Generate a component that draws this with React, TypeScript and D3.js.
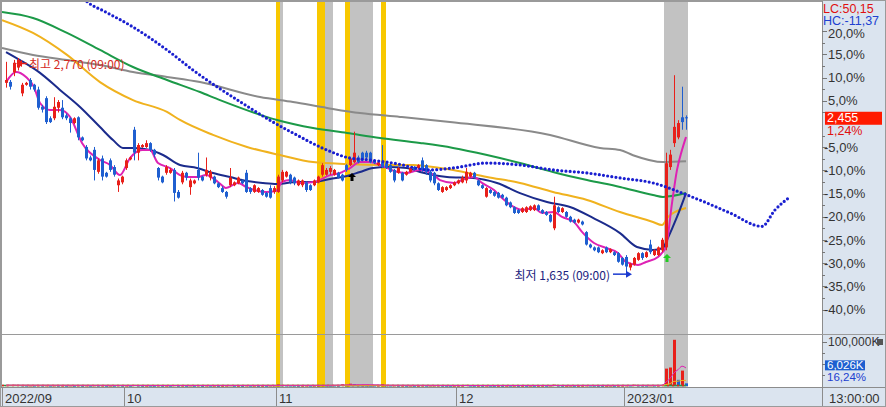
import React from 'react';
import * as d3 from 'd3';

// reference price for the % axis (last close 2,455 = +1.24%)
const basePrice = 2425;

const opens = [
  2640, 2645, 2695, 2720, 2585, 2630, 2655, 2630, 2605, 2515,
  2560, 2455, 2455, 2510, 2510, 2470, 2455, 2430, 2460, 2355,
  2305, 2250, 2290, 2175, 2245, 2170, 2235, 2200, 2105, 2120,
  2195, 2240, 2395, 2275, 2305, 2305, 2325, 2290, 2195, 2150,
  2170, 2170, 2185, 2070, 2120, 2170, 2095, 2115, 2185, 2150,
  2160, 2145, 2150, 2115, 2090, 2070, 2105, 2105, 2115, 2130,
  2170, 2090, 2070, 2070, 2080, 2065, 2090, 2070, 2070, 2130,
  2150, 2160, 2145, 2105, 2105, 2120, 2105, 2105, 2120, 2160,
  2160, 2175, 2160, 2170, 2160, 2210, 2210, 2225, 2250, 2275,
  2275, 2275, 2235, 2210, 2225, 2220, 2210, 2185, 2170, 2170,
  2160, 2175, 2200, 2195, 2235, 2210, 2175, 2170, 2115, 2070,
  2080, 2090, 2105, 2115, 2120, 2130, 2150, 2170, 2130, 2105,
  2045, 2080, 2070, 2065, 2055, 2040, 2015, 1990, 1975, 1965,
  1965, 1975, 1975, 2000, 1975, 1965, 1950, 1880, 1990, 1965,
  1965, 1940, 1925, 1910, 1915, 1860, 1795, 1780, 1780, 1750,
  1780, 1755, 1755, 1750, 1725, 1730, 1675, 1690, 1715, 1750,
  1730, 1795, 1740, 1740, 1765, 1780, 2200, 2325, 2355, 2460,
  2460,
];
const highs = [
  2750, 2655, 2760, 2770, 2640, 2645, 2665, 2635, 2620, 2525,
  2570, 2465, 2565, 2550, 2550, 2480, 2460, 2460, 2465, 2360,
  2315, 2260, 2305, 2245, 2260, 2175, 2245, 2210, 2140, 2155,
  2245, 2255, 2410, 2325, 2320, 2340, 2330, 2295, 2200, 2155,
  2210, 2195, 2195, 2080, 2180, 2175, 2140, 2135, 2275, 2155,
  2250, 2185, 2155, 2120, 2100, 2075, 2195, 2125, 2150, 2135,
  2185, 2095, 2110, 2095, 2085, 2070, 2105, 2100, 2160, 2185,
  2180, 2165, 2150, 2135, 2135, 2125, 2110, 2135, 2155, 2220,
  2195, 2205, 2190, 2175, 2165, 2215, 2250, 2385, 2260, 2280,
  2285, 2280, 2240, 2230, 2315, 2225, 2215, 2190, 2200, 2175,
  2180, 2200, 2205, 2215, 2250, 2215, 2185, 2175, 2120, 2100,
  2100, 2110, 2125, 2135, 2155, 2195, 2175, 2175, 2135, 2110,
  2095, 2085, 2075, 2070, 2060, 2045, 2020, 1995, 1980, 1990,
  1995, 2000, 2005, 2005, 1980, 1970, 1955, 2045, 1995, 1990,
  1970, 1945, 1930, 1930, 1920, 1865, 1800, 1785, 1785, 1770,
  1785, 1775, 1760, 1755, 1730, 1740, 1700, 1730, 1755, 1755,
  1760, 1820, 1770, 1785, 1830, 2275, 2290, 2680, 2445, 2620,
  2470,
];
const lows = [
  2615, 2605, 2675, 2705, 2570, 2625, 2605, 2595, 2500, 2485,
  2425, 2430, 2445, 2485, 2450, 2445, 2380, 2425, 2340, 2335,
  2235, 2230, 2130, 2165, 2130, 2145, 2175, 2150, 2070, 2110,
  2185, 2235, 2235, 2235, 2300, 2300, 2280, 2250, 2130, 2115,
  2160, 2165, 2020, 2035, 2110, 2130, 2055, 2110, 2130, 2125,
  2150, 2130, 2110, 2090, 2065, 2035, 2095, 2100, 2110, 2110,
  2065, 2060, 2065, 2065, 2050, 2040, 2035, 2060, 2065, 2120,
  2145, 2110, 2105, 2100, 2095, 2070, 2075, 2100, 2115, 2150,
  2155, 2160, 2155, 2140, 2125, 2175, 2205, 2220, 2220, 2230,
  2240, 2220, 2215, 2205, 2195, 2190, 2170, 2120, 2165, 2125,
  2155, 2170, 2180, 2190, 2175, 2160, 2120, 2105, 2075, 2065,
  2075, 2085, 2100, 2110, 2115, 2115, 2145, 2140, 2100, 2085,
  2040, 2060, 2045, 2035, 2035, 1995, 1985, 1955, 1955, 1960,
  1960, 1970, 1970, 1970, 1955, 1945, 1910, 1870, 1960, 1960,
  1935, 1910, 1905, 1905, 1895, 1790, 1775, 1760, 1750, 1745,
  1750, 1750, 1735, 1700, 1685, 1635, 1660, 1685, 1710, 1715,
  1725, 1745, 1735, 1735, 1755, 1765, 2185, 2305, 2345, 2395,
  2395,
];
const closes = [
  2655, 2620, 2745, 2760, 2630, 2640, 2620, 2605, 2510, 2500,
  2435, 2435, 2515, 2540, 2460, 2455, 2430, 2455, 2355, 2340,
  2245, 2235, 2185, 2235, 2150, 2150, 2185, 2160, 2130, 2150,
  2235, 2250, 2275, 2315, 2315, 2325, 2290, 2265, 2145, 2120,
  2200, 2185, 2065, 2040, 2170, 2145, 2130, 2130, 2145, 2130,
  2185, 2175, 2115, 2095, 2070, 2045, 2145, 2120, 2145, 2115,
  2070, 2070, 2105, 2090, 2055, 2045, 2040, 2090, 2150, 2175,
  2175, 2120, 2115, 2130, 2130, 2080, 2080, 2130, 2150, 2210,
  2185, 2195, 2185, 2145, 2130, 2185, 2245, 2275, 2225, 2235,
  2250, 2225, 2220, 2225, 2200, 2195, 2175, 2130, 2195, 2130,
  2175, 2195, 2185, 2210, 2185, 2175, 2130, 2115, 2080, 2095,
  2095, 2105, 2120, 2130, 2145, 2175, 2170, 2145, 2105, 2090,
  2090, 2065, 2050, 2040, 2040, 2000, 1990, 1960, 1960, 1985,
  1990, 1995, 2000, 1975, 1960, 1950, 1915, 2000, 1965, 1985,
  1940, 1915, 1910, 1925, 1900, 1795, 1780, 1765, 1755, 1765,
  1755, 1770, 1740, 1705, 1690, 1680, 1695, 1725, 1750, 1725,
  1755, 1755, 1765, 1780, 1820, 2220, 2265, 2410, 2430, 2435,
  2455,
];
// volume in K shares
const volumes = [
  1800, 2200, 2600, 2400, 1500, 1200, 1300, 1100, 1600, 1200,
  1500, 1000, 1400, 1100, 1200, 900, 1300, 800, 1500, 900,
  1400, 900, 1600, 1200, 1300, 800, 1000, 900, 1700, 1000,
  1200, 800, 2400, 1300, 900, 1000, 900, 800, 1400, 900,
  1100, 800, 1900, 1000, 1200, 800, 1300, 800, 1500, 700,
  1300, 900, 1000, 800, 900, 1100, 1600, 800, 900, 700,
  1400, 900, 1000, 800, 900, 800, 1100, 1200, 3600, 2000,
  1300, 1100, 1000, 900, 1000, 1200, 900, 1000, 1500, 2200,
  1500, 1300, 1200, 1000, 3800, 1800, 5200, 4200, 2000, 1600,
  1500, 1400, 1200, 1300, 4000, 1500, 1200, 1400, 1000, 1100,
  900, 1000, 800, 900, 1300, 1000, 1100, 1200, 1300, 1000,
  900, 800, 900, 1000, 1100, 2500, 1000, 900, 1000, 900,
  1200, 900, 800, 900, 800, 1000, 900, 1000, 800, 900,
  800, 900, 800, 900, 1000, 900, 1100, 3000, 1200, 900,
  900, 1000, 800, 900, 1000, 1500, 1200, 1000, 900, 800,
  900, 1000, 800, 1100, 1200, 1500, 1300, 2800, 1400, 1200,
  1100, 1500, 1200, 1300, 2500, 39500, 42000, 105000, 14000, 35000,
  6026,
];
const lastVolPct = 16.24;

// moving averages: [candle index, price]
const ma5: [number, number][] = [
  [0, 2644], [2.5, 2697], [5, 2671], [7, 2618], [8.5, 2535], [11, 2498], [13.5, 2498], [16, 2462],
  [19, 2326], [23.5, 2237], [26, 2211], [28.5, 2158], [31, 2247], [34, 2289], [36, 2289], [38, 2221],
  [41, 2195], [43.5, 2158], [45.5, 2148], [48, 2148], [50, 2158], [53, 2122], [55, 2091], [58, 2117],
  [60, 2096], [62, 2080], [65, 2070], [67.5, 2075], [69, 2122], [71, 2132], [73.5, 2117], [77, 2122],
  [81, 2158], [83.5, 2169], [86, 2195], [88.5, 2226], [91, 2226], [93.5, 2211], [98, 2174], [100, 2169],
  [103.5, 2185], [107, 2158], [108.5, 2132], [112, 2117], [114, 2132], [117, 2148], [119, 2117],
  [122, 2080], [124, 2038], [127, 1991], [129, 1976], [132, 1986], [134, 1960], [137, 1965], [139, 1939],
  [142, 1913], [144, 1861], [147, 1803], [150, 1777], [153, 1751], [155, 1704], [158, 1688], [160, 1704],
  [163, 1730], [164, 1751], [165, 1782], [166.5, 2012], [167.75, 2185], [169, 2289], [170, 2357],
];
const ma20: [number, number][] = [
  [0, 2801], [3.5, 2759], [8.5, 2692], [13.5, 2603], [18.5, 2514], [23.5, 2409], [26.75, 2341],
  [29.25, 2300], [31.75, 2300], [36, 2289], [39.25, 2263], [43.5, 2211], [47.75, 2195], [51.75, 2169],
  [56, 2148], [60.25, 2127], [64.25, 2117], [67.75, 2112], [72.75, 2122], [76.75, 2122], [81, 2138],
  [85.25, 2153], [88.5, 2174], [91.75, 2195], [95.25, 2200], [100.25, 2195], [103.5, 2174],
  [110.25, 2148], [116.75, 2143], [122.75, 2117], [128.5, 2064], [135.25, 2017], [141, 1991],
  [146.75, 1934], [153.5, 1855], [157.75, 1782], [161.75, 1767], [164.25, 1777], [165.25, 1819],
  [167.75, 1939], [170, 2064],
];
const ma60: [number, number][] = [
  [-1, 2968], [6.75, 2901], [15.25, 2786], [23.5, 2644], [31.75, 2550], [40.25, 2488], [43.5, 2446],
  [51.75, 2368], [60.25, 2305], [68.5, 2263], [76.75, 2226], [85.25, 2216], [93.5, 2211],
  [101.75, 2211], [108.5, 2195], [111.75, 2185], [120.25, 2148], [128.5, 2117], [136.75, 2070],
  [145.25, 2028], [153.5, 1965], [161.75, 1913], [164, 1897], [165.5, 1939], [170, 1986],
];
const ma120: [number, number][] = [
  [-1, 3010], [6.75, 2979], [15.25, 2901], [23.5, 2812], [31.75, 2723], [40.25, 2655], [48.5, 2592],
  [53.5, 2550], [67.75, 2446], [76.75, 2404], [85.25, 2378], [93.5, 2352], [103.5, 2326],
  [111.75, 2300], [120.25, 2263], [128.5, 2221], [136.75, 2174], [145.25, 2132], [153.5, 2096],
  [161.75, 2054], [164.25, 2044], [170, 2064],
];
const ma240: [number, number][] = [
  [-1, 2822], [6.75, 2786], [15.25, 2759], [23.5, 2733], [31.75, 2697], [40.25, 2671], [48.5, 2644],
  [63.5, 2566], [71.75, 2540], [80.25, 2509], [88.5, 2482], [98.5, 2462], [111, 2435], [136, 2368],
  [148.5, 2300], [153.5, 2289], [156.75, 2262], [164.25, 2226], [170, 2230],
];
// leading (forward-shifted) line, dotted
const leadLine: [number, number][] = [
  [18, 3110], [20.5, 3060], [24.5, 3015], [31.75, 2932], [40.25, 2812], [46.75, 2707], [61, 2509],
  [66.75, 2435], [71.75, 2378], [80.25, 2289], [86, 2247], [91, 2237], [96.75, 2221], [106, 2185],
  [111.75, 2195], [120.25, 2221], [128.5, 2211], [136.75, 2185], [145.25, 2169], [153.5, 2143],
  [161.75, 2117], [170.25, 2054], [175.25, 2012], [181, 1960], [189, 1890], [192.25, 1976], [196, 2044],
];
const volMa5: [number, number][] = [
  [0, 2000], [40, 1200], [80, 1500], [86, 2600], [90, 3000], [96, 1800], [120, 1000], [164, 1600],
  [165, 9000], [166, 17000], [167, 30000], [168, 37000], [169, 45000], [170, 41000],
];
const volMa20: [number, number][] = [
  [0, 1600], [164, 1400], [165, 3300], [166, 5300], [167, 10500], [168, 11000], [169, 12600], [170, 12800],
];

const pctTicks = [20, 15, 10, 5, -5, -10, -15, -20, -25, -30, -35, -40];
const pctMinor = [17.5, 12.5, 7.5, 2.5, -2.5, -7.5, -12.5, -17.5, -22.5, -27.5, -32.5, -37.5];
const volTicks = [100000];
const volMinor = [75000, 50000, 25000];

const monthTicks: { label: string; at: number }[] = [
  { label: '2022/09', at: -1 },
  { label: '10', at: 29.5 },
  { label: '11', at: 67.5 },
  { label: '12', at: 112.5 },
  { label: '2023/01', at: 154.5 },
];

// shaded signal bands: [from index, to index, kind]
const bands: [number, number, 'y' | 'g'][] = [
  [67.5, 68.5, 'y'], [68.5, 69.25, 'g'],
  [77.75, 79.75, 'y'], [79.75, 81.75, 'g'],
  [84.75, 86, 'y'], [86, 91.75, 'g'],
  [93.75, 95, 'y'],
  [164.5, 170.5, 'g'],
];

const highIdx = 3;
const lowIdx = 155;
const buySignals = [
  { at: 86.5, price: 2169, color: '#000000' },
  { at: 165.25, price: 1746, color: '#22cc22' },
];

const RED = '#e8201a';
const BLUE = '#1f5fd0';
const AXIS_BG = '#dbe4ef';
const NUM_FONT = "'Liberation Sans Narrow', 'Arial Narrow', 'Liberation Sans', sans-serif";
const KR_FONT = "'Noto Sans CJK KR', 'Noto Sans', sans-serif";

const fmtPct = (v: number, d = 1) => `${v.toFixed(d).replace('.', ',')}%`;

export default function App() {
  const W = 886;
  const H = 407;
  const plotR = 822;
  const priceBottom = 334;

  const x = d3.scaleLinear().domain([-1, 204]).range([2, plotR]);
  const y = d3.scaleLinear().domain([basePrice * 0.6, basePrice * 1.2]).range([309.6, 31.2]);
  const v = d3.scaleLinear().domain([0, 100000]).range([386, 342]);
  const yPct = (p: number) => y(basePrice * (1 + p / 100));

  const line = d3.line<[number, number]>().x(d => x(d[0])).y(d => y(d[1])).curve(d3.curveMonotoneX);
  const vline = d3.line<[number, number]>().x(d => x(d[0])).y(d => v(d[1])).curve(d3.curveMonotoneX);

  const last = closes.length - 1;
  const lastPct = (closes[last] / basePrice - 1) * 100;
  const lastVol = volumes[last];
  const fmtNum = d3.format(',');

  const hiY = y(highs[highIdx]) + 5.5;
  const loY = y(lows[lowIdx]) - 1;

  return (
    <svg width={W} height={H} style={{ position: 'absolute', left: 0, top: 0, background: '#fff' }}>
      <defs>
        <clipPath id="pricePanel">
          <rect x={2} y={2} width={plotR - 2} height={priceBottom - 2} />
        </clipPath>
        <clipPath id="volPanel">
          <rect x={2} y={336} width={plotR - 2} height={51} />
        </clipPath>
      </defs>

      {/* signal bands through both panels */}
      {bands.map(([a, b, k], i) => (
        <rect key={i} x={x(a)} y={2} width={x(b) - x(a)} height={385}
          fill={k === 'y' ? '#f8c800' : '#c2c2c2'} />
      ))}

      {/* price panel */}
      <g clipPath="url(#pricePanel)">
        <path d={line(ma240) || ''} fill="none" stroke="#8a8a8a" strokeWidth={2} />
        <path d={line(ma120) || ''} fill="none" stroke="#1c9a48" strokeWidth={2} />
        <path d={line(ma60) || ''} fill="none" stroke="#f0b21e" strokeWidth={2} />
        <path d={line(ma20) || ''} fill="none" stroke="#1b2b8c" strokeWidth={2} />
        <path d={line(ma5) || ''} fill="none" stroke="#de22b4" strokeWidth={2} />

        {closes.map((c, i) => {
          const o = opens[i];
          const col = c >= o ? RED : BLUE;
          const top = y(Math.max(o, c));
          const bot = y(Math.min(o, c));
          return (
            <g key={i}>
              <line x1={x(i) + 0.5} x2={x(i) + 0.5} y1={y(highs[i])} y2={y(lows[i])} stroke={col} strokeWidth={1} />
              <rect x={x(i) - 1} y={top} width={3} height={Math.max(1, bot - top)} fill={col} />
            </g>
          );
        })}

        <path d={line(leadLine) || ''} fill="none" stroke="#1a1fd0" strokeWidth={3.2}
          strokeDasharray="0 4.2" strokeLinecap="round" />

        {buySignals.map((s, i) => {
          const cx = x(s.at);
          const ty = y(s.price);
          return (
            <path key={i} fill={s.color}
              d={`M${cx},${ty} L${cx + 4},${ty + 4} L${cx + 1.5},${ty + 4} L${cx + 1.5},${ty + 8} L${cx - 1.5},${ty + 8} L${cx - 1.5},${ty + 4} L${cx - 4},${ty + 4} Z`} />
          );
        })}

        {/* high / low labels */}
        <path d={`M${x(highIdx) - 2},${hiY} L${x(highIdx) + 4},${hiY - 3.5} L${x(highIdx) + 4},${hiY + 3.5} Z`} fill={RED} />
        <line x1={x(highIdx) + 3} x2={x(highIdx) + 9} y1={hiY} y2={hiY} stroke={RED} strokeWidth={1.5} />
        <text x={x(highIdx) + 11} y={hiY} dominantBaseline="central" fontFamily={KR_FONT} fontSize={12} fill="#d42a24">
          최고 {fmtNum(highs[highIdx])} (09:00)
        </text>

        <text x={x(lowIdx) - 16} y={loY} textAnchor="end" dominantBaseline="central" fontFamily={KR_FONT} fontSize={12} fill="#1b237e">
          최저 {fmtNum(lows[lowIdx])} (09:00)
        </text>
        <line x1={x(lowIdx) - 13} x2={x(lowIdx) + 1} y1={loY} y2={loY} stroke="#1a3ad0" strokeWidth={1.5} />
        <path d={`M${x(lowIdx) + 6},${loY} L${x(lowIdx)},${loY - 3.5} L${x(lowIdx)},${loY + 3.5} Z`} fill="#1a3ad0" />
      </g>

      {/* panel separators */}
      <line x1={2} x2={plotR} y1={priceBottom + 0.5} y2={priceBottom + 0.5} stroke="#9a9a9a" />

      {/* volume panel */}
      <g clipPath="url(#volPanel)">
        {volumes.map((vol, i) => {
          const up = i === 0 || vol >= volumes[i - 1];
          const top = v(vol);
          return (
            <rect key={i} x={x(i) - 1} y={top} width={3} height={Math.max(1, v(0) - top)} fill={up ? RED : BLUE} />
          );
        })}
        <line x1={2} x2={x(last)} y1={v(0) - 0.5} y2={v(0) - 0.5} stroke="#2a9a4a" strokeWidth={1.5} />
        <line x1={2} x2={x(last)} y1={v(0) - 0.5} y2={v(0) - 0.5} stroke={RED} strokeWidth={1.5} strokeDasharray="2 3" />
        <path d={vline(volMa20) || ''} fill="none" stroke="#f0b21e" strokeWidth={1} />
        <path d={vline(volMa5) || ''} fill="none" stroke="#de22b4" strokeWidth={1} />
      </g>

      {/* right axis */}
      <rect x={plotR} y={0} width={W - plotR} height={H} fill={AXIS_BG} />
      <line x1={plotR + 0.5} x2={plotR + 0.5} y1={0} y2={H} stroke="#8c8c8c" />
      <line x1={plotR} x2={W} y1={priceBottom + 0.5} y2={priceBottom + 0.5} stroke="#9a9a9a" />
      {pctMinor.map(p => (
        <line key={p} x1={plotR} x2={plotR + 3} y1={Math.round(yPct(p)) + 0.5} y2={Math.round(yPct(p)) + 0.5} stroke="#777" />
      ))}
      {pctTicks.map(p => (
        <g key={p}>
          <line x1={plotR} x2={plotR + 5} y1={Math.round(yPct(p)) + 0.5} y2={Math.round(yPct(p)) + 0.5} stroke="#777" />
          <text x={p < 0 ? plotR + 2 : plotR + 6} y={p === 20 ? yPct(p) + 2.5 : yPct(p)} dominantBaseline="central"
            fontFamily={NUM_FONT} fontSize={13} fill="#333">{fmtPct(p)}</text>
        </g>
      ))}
      <rect x={plotR + 1} y={1} width={W - plotR - 2} height={27} fill={AXIS_BG} />
      <text x={plotR + 1} y={8.5} dominantBaseline="central" fontFamily={NUM_FONT} fontSize={12.5} fill="#e01010">LC:50,15</text>
      <text x={plotR + 1} y={20.5} dominantBaseline="central" fontFamily={NUM_FONT} fontSize={12.5} fill="#2040d0">HC:-11,37</text>

      <rect x={plotR + 3} y={y(closes[last]) - 6.5} width={57} height={13} fill="#ff1a00" />
      <text x={plotR + 5} y={y(closes[last])} dominantBaseline="central" fontFamily={NUM_FONT} fontSize={12.5} fill="#fff">
        {fmtNum(closes[last])}
      </text>
      <text x={plotR + 5} y={y(closes[last]) + 13} dominantBaseline="central" fontFamily={NUM_FONT} fontSize={12.5} fill="#e01010">
        {fmtPct(lastPct, 2)}
      </text>

      {volMinor.map(t => (
        <line key={t} x1={plotR} x2={plotR + 3} y1={Math.round(v(t)) + 0.5} y2={Math.round(v(t)) + 0.5} stroke="#777" />
      ))}
      {volTicks.map(t => (
        <g key={t}>
          <line x1={plotR} x2={plotR + 5} y1={Math.round(v(t)) + 0.5} y2={Math.round(v(t)) + 0.5} stroke="#777" />
          <text x={plotR + 6} y={v(t)} dominantBaseline="central" fontFamily={NUM_FONT} fontSize={12} fill="#333">
            {fmtNum(t)}K
          </text>
        </g>
      ))}
      <rect x={877} y={v(100000) - 3} width={6} height={6} fill="#555" />
      <rect x={plotR + 3} y={v(lastVol) - 23} width={40} height={10} fill="#1d5fd0" />
      <text x={plotR + 5} y={v(lastVol) - 18} dominantBaseline="central" fontFamily={NUM_FONT} fontSize={11.5} fill="#fff">
        {fmtNum(lastVol)}K
      </text>
      <text x={plotR + 5} y={v(lastVol) - 6} dominantBaseline="central" fontFamily={NUM_FONT} fontSize={11.5} fill="#2040d0">
        {fmtPct(lastVolPct, 2)}
      </text>

      {/* bottom time axis */}
      <rect x={0} y={387} width={W} height={H - 387} fill={AXIS_BG} />
      <line x1={0} x2={W} y1={387.5} y2={387.5} stroke="#8c8c8c" />
      <line x1={plotR + 0.5} x2={plotR + 0.5} y1={387} y2={H} stroke="#8c8c8c" />
      {monthTicks.map(m => (
        <g key={m.label}>
          <line x1={x(m.at) + 0.5} x2={x(m.at) + 0.5} y1={387} y2={H} stroke="#8c8c8c" />
          <text x={x(m.at) + 3} y={398} dominantBaseline="central" fontFamily={NUM_FONT} fontSize={13} fill="#333">{m.label}</text>
        </g>
      ))}
      <text x={plotR + 7} y={398} dominantBaseline="central" fontFamily={NUM_FONT} fontSize={13} fill="#333">13:00:00</text>

      {/* outer frame */}
      <rect x={0.5} y={0.5} width={W - 1} height={H - 1} fill="none" stroke="#9a9a9a" strokeWidth={1} />
      <line x1={1.5} x2={1.5} y1={0} y2={387} stroke="#9a9a9a" />
      <line x1={0} x2={plotR} y1={1.5} y2={1.5} stroke="#9a9a9a" />
    </svg>
  );
}
